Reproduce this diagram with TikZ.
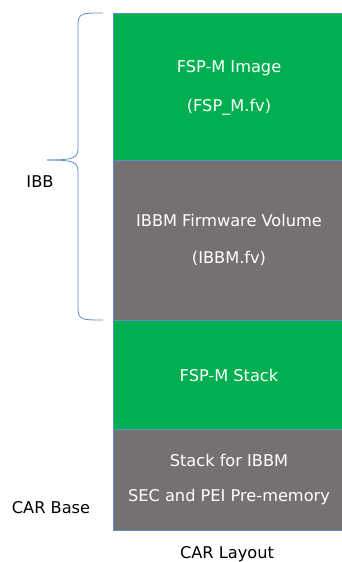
\documentclass[tikz,border=0pt]{standalone}
\usepackage{fontspec}
\setmainfont{DejaVu Sans}
\definecolor{fspgreen}{HTML}{00B050}
\definecolor{fspgray}{HTML}{767171}
\definecolor{edgeblue}{HTML}{5B8FC9}
\begin{document}
\begin{tikzpicture}[x=1pt,y=-1pt,
  blk/.style={draw=edgeblue,line width=0.6pt,inner sep=0pt},
  intxt/.style={text=white,font=\fontsize{16.2}{19}\selectfont},
  lbl/.style={text=black,font=\fontsize{16.2}{19}\selectfont}]
\useasboundingbox (0,0) rectangle (342,562);
\filldraw[blk,fill=fspgreen] (113,13) rectangle (342,160);
\filldraw[blk,fill=fspgray] (113,160) rectangle (342,320);
\filldraw[blk,fill=fspgreen] (113,320) rectangle (342,429);
\filldraw[blk,fill=fspgray] (113,429) rectangle (342,530);
\node[intxt] (t1) at (229,68) {FSP-M Image};
\node[intxt] (t2) at (229,107) {(FSP\_M.fv)};
\node[intxt] (t3) at (229,220) {IBBM Firmware Volume};
\node[intxt] (t4) at (229,258) {(IBBM.fv)};
\node[intxt] (t5) at (229,375) {FSP-M Stack};
\node[intxt] (t6) at (229,460) {Stack for IBBM};
\node[intxt] (t7) at (229,497) {SEC and PEI Pre-memory};
\node[lbl] (ibb) at (40,182) {IBB};
\node[lbl] (carbase) at (51,508) {CAR Base};
\node[lbl] (carlayout) at (227,554) {CAR Layout};
\draw[edgeblue,line width=0.8pt]
  (103,13) .. controls (82,13) and (78,13) .. (78,25)
  -- (78,148) .. controls (78,158) and (74,160) .. (47,160);
\draw[edgeblue,line width=0.8pt]
  (103,320) .. controls (82,320) and (78,320) .. (78,308)
  -- (78,172) .. controls (78,162) and (74,160) .. (47,160);
\end{tikzpicture}
\end{document}
